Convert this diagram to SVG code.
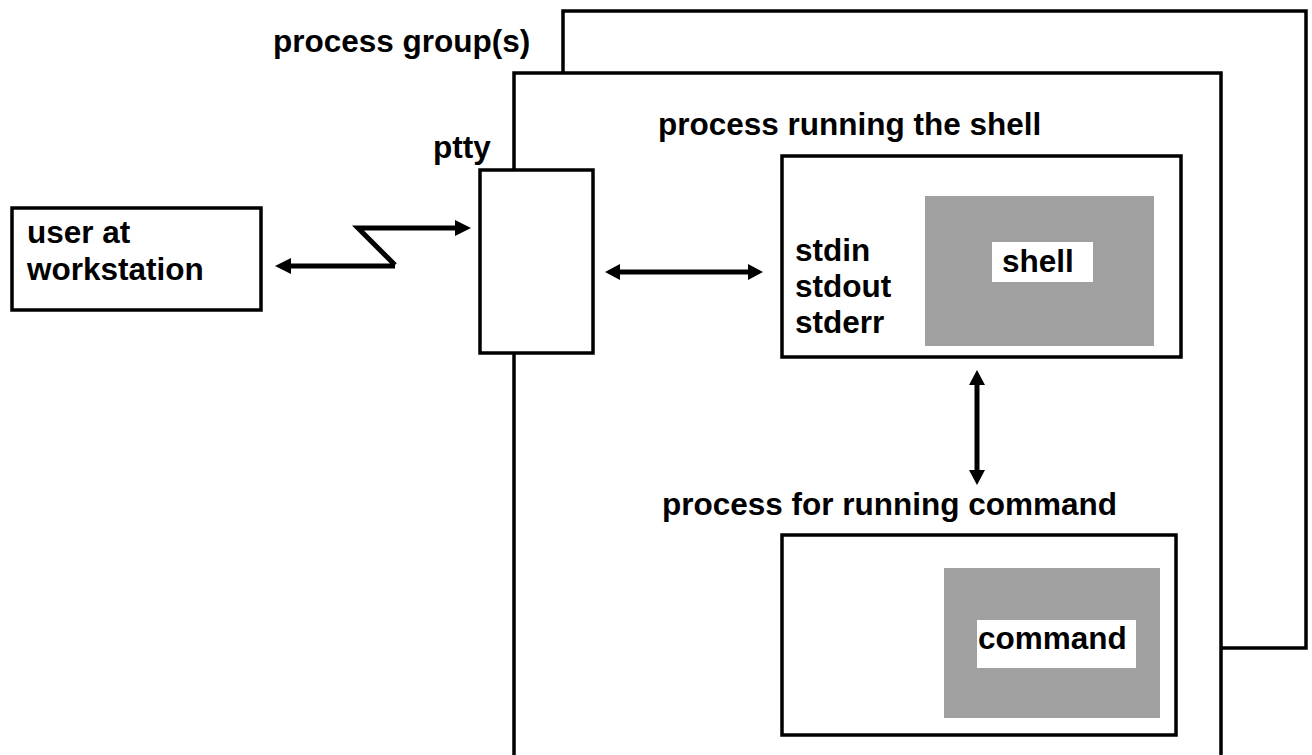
<svg xmlns="http://www.w3.org/2000/svg" width="1312" height="755" viewBox="0 0 1312 755">
<style>
.box{fill:#fff;stroke:#000;stroke-width:3.5}
.gray{fill:#a0a0a0}
.lbl{fill:#fff}
text{font-family:"Liberation Sans",Arial,sans-serif;font-weight:bold;font-size:31.5px;fill:#000}
.conn{fill:none;stroke:#000;stroke-width:5}
</style>
<g id="process-groups">
<rect class="box" x="563" y="11" width="743" height="637"/>
<text x="273" y="52">process group(s)</text>
</g>
<g id="front-group">
<rect class="box" x="514" y="73" width="707" height="700"/>
</g>
<g id="user">
<rect class="box" x="12" y="208" width="249" height="102"/>
<text x="27" y="243">user at</text>
<text x="27" y="280">workstation</text>
</g>
<g id="ptty">
<rect class="box" x="480" y="170" width="113" height="183"/>
<text x="433" y="158">ptty</text>
</g>
<g id="shell-process">
<text x="658" y="135">process running the shell</text>
<rect class="box" x="782" y="156" width="399" height="201"/>
<text x="795" y="261">stdin</text>
<text x="795" y="297">stdout</text>
<text x="795" y="333">stderr</text>
<rect class="gray" x="925" y="196" width="229" height="150"/>
<rect class="lbl" x="992" y="242" width="101" height="40"/>
<text x="1002" y="272">shell</text>
</g>
<g id="command-process">
<text x="662" y="515">process for running command</text>
<rect class="box" x="782" y="535" width="394" height="200"/>
<rect class="gray" x="944" y="568" width="216" height="150"/>
<rect class="lbl" x="977" y="620" width="159" height="48"/>
<text x="978" y="649">command</text>
</g>
<g id="connectors">
<path class="conn" d="M459,228 L358,228 L395,265" />
<path d="M455,220 L471,228 L455,236 z" fill="#000"/>
<path class="conn" d="M395,266 L290,266" />
<path d="M291,258 L275,266 L291,274 z" fill="#000"/>
<path class="conn" d="M618,272 L750,272" />
<path d="M620,264 L605,272 L620,280 z" fill="#000"/>
<path d="M748,264 L763,272 L748,280 z" fill="#000"/>
<path class="conn" d="M977,383 L977,472" />
<path d="M969,385 L977,370 L985,385 z" fill="#000"/>
<path d="M969,470 L977,485 L985,470 z" fill="#000"/>
</g>
</svg>
